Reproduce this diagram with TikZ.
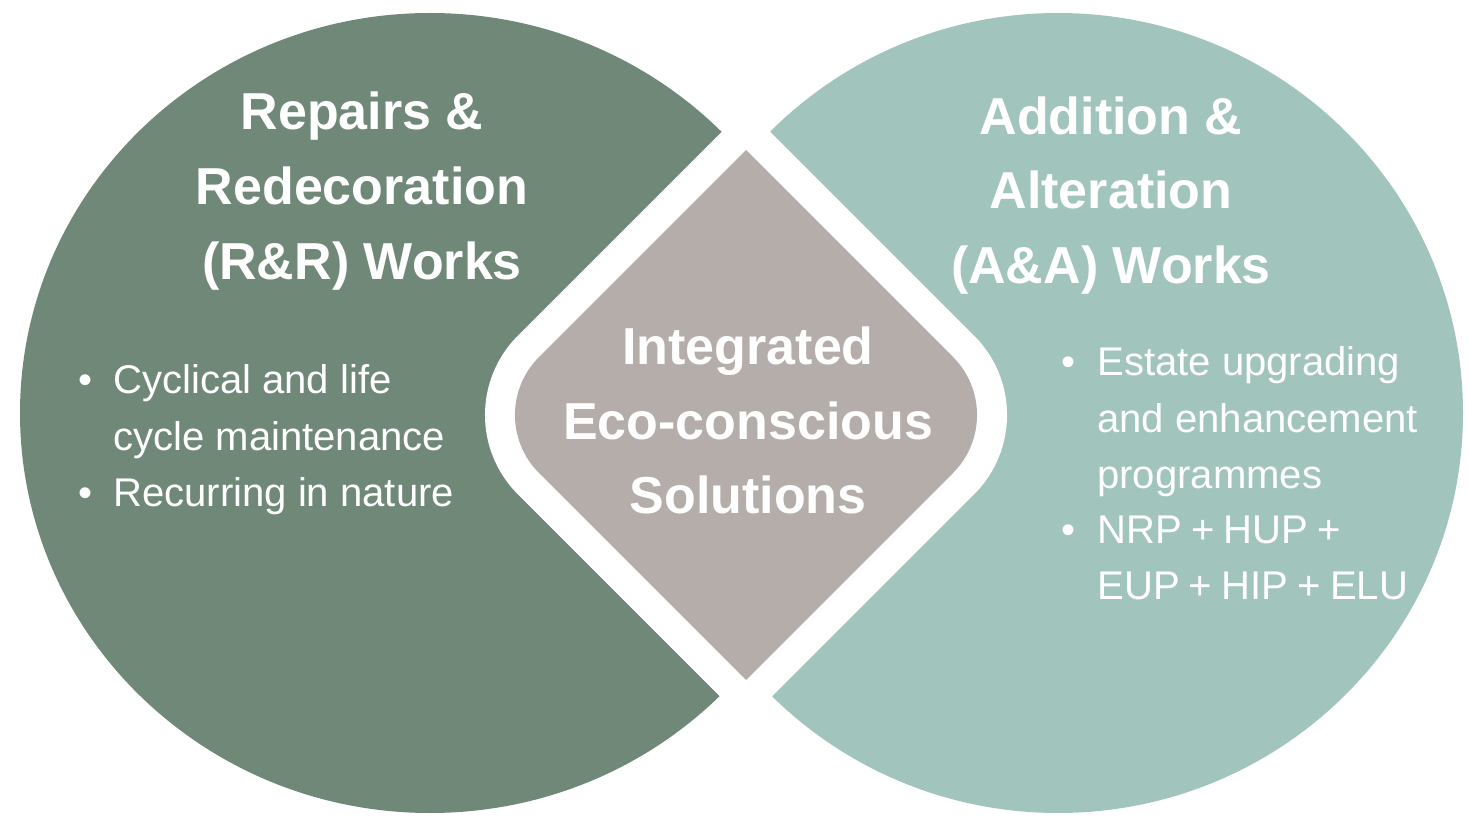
\documentclass[tikz,border=0pt]{standalone}
\usepackage{fontspec}
\setmainfont{Liberation Sans}
\usetikzlibrary{calc}

\definecolor{sage}{HTML}{6F8878}
\definecolor{seafoam}{HTML}{A1C4BD}
\definecolor{taupe}{HTML}{B5ADAA}

\begin{document}
\begin{tikzpicture}[x=0.02cm,y=0.02cm,
  headline/.style={anchor=base,inner sep=0pt,text=white,
    font=\fontsize{29.6}{35}\selectfont\bfseries},
  bodyline/.style={anchor=base west,inner sep=0pt,text=white,
    font=\fontsize{22.8}{28}\selectfont},
  bulletdot/.style={anchor=base,inner sep=0pt,text=white,
    font=\fontsize{22.8}{28}\selectfont}]

% canvas
\fill[white] (0,0) rectangle (1468,816);
\useasboundingbox (0,0) rectangle (1468,816);

% the two works areas
\fill[sage] (430,403) ellipse [x radius=410, y radius=400];
\fill[seafoam] (1058,403) ellipse [x radius=405, y radius=400];

% centres of the rounded side corners of the diamond
\coordinate (cl) at ({481+82*sqrt(2)},401);
\coordinate (cr) at ({1011-82*sqrt(2)},401);

% white gap around the diamond
\fill[white] (746,708.4)
  -- ($(cl)+(135:112)$) arc[start angle=135, end angle=225, radius=112]
  -- (746,93.6)
  -- ($(cr)+(-45:112)$) arc[start angle=-45, end angle=45, radius=112]
  -- cycle;

% central diamond
\fill[taupe] (746,666)
  -- ($(cl)+(135:82)$) arc[start angle=135, end angle=225, radius=82]
  -- (746,136)
  -- ($(cr)+(-45:82)$) arc[start angle=-45, end angle=45, radius=82]
  -- cycle;

% left heading
\node[headline] (rr1) at (362,686) {Repairs \&};
\node[headline] (rr2) at (362,611) {Redecoration};
\node[headline] (rr3) at (362,536) {(R\&R) Works};

% left bullets
\node[bulletdot] (lb1) at (86,422) {•};
\node[bodyline] (lt1) at (113,422) {Cyclical and life};
\node[bodyline] (lt2) at (113,366) {cycle maintenance};
\node[bulletdot] (lb2) at (86,310) {•};
\node[bodyline] (lt3) at (113,310) {Recurring in nature};

% right heading
\node[headline] (aa1) at (1111,681) {Addition \&};
\node[headline] (aa2) at (1111,607) {Alteration};
\node[headline] (aa3) at (1111,532) {(A\&A) Works};

% right bullets
\node[bulletdot] (rb1) at (1069,440) {•};
\node[bodyline] (rt1) at (1097,440) {Estate upgrading};
\node[bodyline] (rt2) at (1097,384) {and enhancement};
\node[bodyline] (rt3) at (1097,328) {programmes};
\node[bulletdot] (rb2) at (1069,273) {•};
\node[bodyline] (rt4) at (1097,273) {\spaceskip=0.23em NRP + HUP +};
\node[bodyline] (rt5) at (1097,217) {\spaceskip=0.23em EUP + HIP + ELU};

% centre heading
\node[headline] (ec1) at (748,452) {Integrated};
\node[headline] (ec2) at (748,377) {Eco-conscious};
\node[headline] (ec3) at (748,303) {Solutions};
\end{tikzpicture}
\end{document}
